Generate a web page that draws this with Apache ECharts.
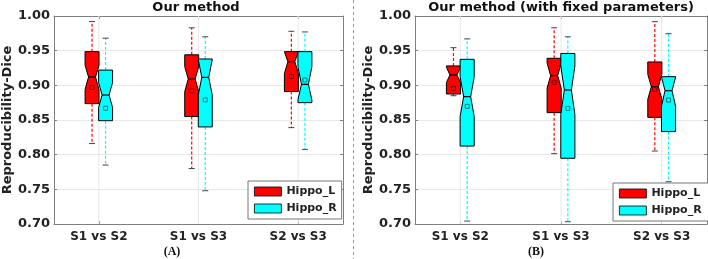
<!DOCTYPE html>
<html>
<head>
<meta charset="utf-8">
<script src="https://cdn.jsdelivr.net/npm/echarts@6/dist/echarts.min.js"></script>
<style>html,body{margin:0;padding:0;background:#fff;}#c{width:708px;height:259px;}</style>
</head>
<body>
<div id="c"></div>
<script>
// ---- data ----
const categories = ['S1 vs S2', 'S1 vs S3', 'S2 vs S3'];
const yTicks = [0.70, 0.75, 0.80, 0.85, 0.90, 0.95, 1.00];
const seriesNames = ['Hippo_L', 'Hippo_R'];
// each row: [whiskerLow, q1, notchLow, median, notchHigh, q3, whiskerHigh, mean]
const panelA_L = [
  [0.816, 0.8736, 0.894, 0.912, 0.929, 0.9486, 0.992, 0.897],
  [0.780, 0.855, 0.891, 0.909, 0.927, 0.944, 0.983, 0.892],
  [0.839, 0.891, 0.917, 0.934, 0.9486, 0.9486, 0.978, 0.913]
];
const panelA_R = [
  [0.785, 0.849, 0.868, 0.886, 0.904, 0.922, 0.968, 0.867],
  [0.748, 0.840, 0.886, 0.9115, 0.937, 0.938, 0.970, 0.879],
  [0.8076, 0.875, 0.879, 0.9014, 0.927, 0.9486, 0.977, 0.9077]
];
const panelB_L = [
  [0.885, 0.8875, 0.904, 0.915, 0.926, 0.928, 0.9543, 0.8957],
  [0.8014, 0.8606, 0.896, 0.914, 0.932, 0.939, 0.983, 0.9043],
  [0.8052, 0.8538, 0.880, 0.898, 0.916, 0.9337, 0.9918, 0.894]
];
const panelB_R = [
  [0.7043, 0.8124, 0.855, 0.8837, 0.9125, 0.9375, 0.967, 0.8697],
  [0.7033, 0.7948, 0.858, 0.8933, 0.928, 0.946, 0.970, 0.8668],
  [0.761, 0.8333, 0.870, 0.8923, 0.912, 0.9125, 0.9745, 0.8788]
];
const titles = ['Our method', 'Our method (with fixed parameters)'];
const panelLabels = ['(A)', '(B)'];

// ---- style ----
const colors = ['#ff0000', '#00ffff'];
const meanColors = ['#7a0000', '#007a7a'];
const offsets = [-0.068, 0.068];
const halfW = 0.07;
const FONT = 'DejaVu Sans';

const chart = echarts.init(document.getElementById('c'), null, {renderer: 'canvas'});

function boxRender(sIdx) {
  return function (params, api) {
    const x = api.value(0) + offsets[sIdx];
    const v = [1,2,3,4,5,6,7,8].map(i => api.value(i));
    const [wl, q1, nl, med, nh, q3, wh, mean] = v;
    const cx = api.coord([x, med])[0];
    const hw = api.size([halfW, 0])[0];
    const nw = hw / 2;
    const Y = val => api.coord([x, val])[1];
    const yq1 = Y(q1), yq3 = Y(q3), ynl = Y(nl), ynh = Y(nh), ym = Y(med);
    const ywl = Y(wl), ywh = Y(wh), ymean = Y(mean);
    const L = cx - hw, R = cx + hw;
    const children = [];
    children.push({type: 'line', shape: {x1: cx, y1: yq3, x2: cx, y2: ywh},
      style: {stroke: colors[sIdx], lineWidth: 1.2, lineDash: [3, 2]}});
    children.push({type: 'line', shape: {x1: cx, y1: yq1, x2: cx, y2: ywl},
      style: {stroke: colors[sIdx], lineWidth: 1.2, lineDash: [3, 2]}});
    children.push({type: 'line', shape: {x1: cx - 3, y1: ywh, x2: cx + 3, y2: ywh},
      style: {stroke: '#444', lineWidth: 1}});
    children.push({type: 'line', shape: {x1: cx - 3, y1: ywl, x2: cx + 3, y2: ywl},
      style: {stroke: '#444', lineWidth: 1}});
    children.push({type: 'polygon', shape: {points: [
      [L, yq3], [R, yq3], [R, ynh], [cx + nw, ym], [R, ynl], [R, yq1],
      [L, yq1], [L, ynl], [cx - nw, ym], [L, ynh]
    ]}, style: {fill: colors[sIdx], stroke: '#000', lineWidth: 1}});
    children.push({type: 'line', shape: {x1: cx - nw, y1: ym, x2: cx + nw, y2: ym},
      style: {stroke: '#000', lineWidth: 1.2}});
    children.push({type: 'rect', shape: {x: cx - 2, y: ymean - 2, width: 4, height: 4},
      style: {fill: 'none', stroke: meanColors[sIdx], lineWidth: 1}});
    return {type: 'group', children: children};
  };
}

function vgridRender(params, api) {
  const x = api.value(0);
  const p1 = api.coord([x, yTicks[0]]);
  const p2 = api.coord([x, yTicks[yTicks.length - 1]]);
  return {type: 'line', shape: {x1: p1[0], y1: p1[1], x2: p2[0], y2: p2[1]},
    style: {stroke: '#e8e8e8', lineWidth: 1}};
}

function mkData(rows) {
  return rows.map((r, i) => [i + 1].concat(r));
}

const grids = [
  {left: 50, top: 16, width: 293, height: 208},
  {left: 415, top: 16, width: 292, height: 208}
];

const catVals = categories.map((c, i) => i + 1);

function xAxisBottom(gi) {
  return {
    type: 'value', gridIndex: gi, min: 0.55, max: 3.45, position: 'bottom',
    axisLine: {show: true, lineStyle: {color: '#808080', width: 1}},
    axisTick: {show: true, inside: true, length: 3, customValues: catVals, lineStyle: {color: '#808080'}},
    axisLabel: {show: true, customValues: catVals, margin: 7,
      formatter: v => categories[Math.round(v) - 1] || '',
      fontFamily: FONT, fontWeight: 'bold', fontSize: 12, color: '#222'},
    splitLine: {show: false}
  };
}
function xAxisTop(gi) {
  return {
    type: 'value', gridIndex: gi, min: 0.55, max: 3.45, position: 'top',
    axisLine: {show: true, lineStyle: {color: '#808080', width: 1}},
    axisTick: {show: true, inside: true, length: 3, customValues: catVals, lineStyle: {color: '#808080'}},
    axisLabel: {show: false}, splitLine: {show: false}
  };
}
function yAxisLeft(gi) {
  return {
    type: 'value', gridIndex: gi, min: yTicks[0], max: yTicks[yTicks.length - 1], interval: 0.05,
    position: 'left',
    name: 'Reproducibility-Dice', nameLocation: 'middle', nameGap: 33, nameRotate: 90,
    nameTextStyle: {fontFamily: FONT, fontWeight: 'bold', fontSize: 13, color: '#222'},
    axisLine: {show: true, lineStyle: {color: '#808080', width: 1}},
    axisTick: {show: true, inside: true, length: 3, lineStyle: {color: '#808080'}},
    axisLabel: {margin: 4, formatter: v => v.toFixed(2),
      fontFamily: FONT, fontWeight: 'bold', fontSize: 13, color: '#222'},
    splitLine: {show: true, lineStyle: {color: '#e8e8e8', width: 1}}
  };
}
function yAxisRight(gi) {
  return {
    type: 'value', gridIndex: gi, min: yTicks[0], max: yTicks[yTicks.length - 1], interval: 0.05,
    position: 'right',
    axisLine: {show: true, lineStyle: {color: '#808080', width: 1}},
    axisTick: {show: true, inside: true, length: 3, lineStyle: {color: '#808080'}},
    axisLabel: {show: false}, splitLine: {show: false}
  };
}

const panels = [[panelA_L, panelA_R], [panelB_L, panelB_R]];
const series = [];
[0, 1].forEach(gi => {
  series.push({type: 'custom', name: 'vgrid' + gi, xAxisIndex: gi, yAxisIndex: gi,
    renderItem: vgridRender, data: catVals.map(v => [v]), z: 1, silent: true});
  [0, 1].forEach(si => {
    series.push({
      type: 'custom', name: seriesNames[si], xAxisIndex: gi, yAxisIndex: gi,
      itemStyle: {color: colors[si]},
      renderItem: boxRender(si), data: mkData(panels[gi][si]), z: 3,
      encode: {x: 0, y: [1, 2, 3, 4, 5, 6, 7, 8]}
    });
  });
});

function legend(opts) {
  return Object.assign({
    data: seriesNames.map(n => ({name: n, icon: 'rect'})),
    orient: 'vertical', itemWidth: 27, itemHeight: 9, itemGap: 6,
    backgroundColor: '#fff', borderColor: '#777', borderWidth: 1, borderRadius: 0,
    itemStyle: {borderColor: '#000', borderWidth: 0.8},
    textStyle: {fontFamily: FONT, fontWeight: 'bold', fontSize: 11, color: '#222', lineHeight: 10},
    selectedMode: false
  }, opts);
}

const option = {
  animation: false,
  backgroundColor: '#fff',
  grid: grids,
  xAxis: [xAxisBottom(0), xAxisBottom(1), xAxisTop(0), xAxisTop(1)],
  yAxis: [yAxisLeft(0), yAxisLeft(1), yAxisRight(0), yAxisRight(1)],
  legend: [
    legend({left: 248, top: 181, padding: [5, 5, 5, 6]}),
    legend({left: 613, top: 183, padding: [5, 10, 5, 6]})
  ],
  graphic: [
    {type: 'text', x: 196, y: 8, style: {text: titles[0], font: 'bold 13px "DejaVu Sans"', fill: '#111', textAlign: 'center', textVerticalAlign: 'middle'}},
    {type: 'text', x: 561, y: 8, style: {text: titles[1], font: 'bold 13px "DejaVu Sans"', fill: '#111', textAlign: 'center', textVerticalAlign: 'middle'}},
    {type: 'text', x: 172, y: 252, style: {text: panelLabels[0], font: 'bold 12px "Liberation Serif"', fill: '#111', textAlign: 'center', textVerticalAlign: 'middle'}},
    {type: 'text', x: 536, y: 252, style: {text: panelLabels[1], font: 'bold 12px "Liberation Serif"', fill: '#111', textAlign: 'center', textVerticalAlign: 'middle'}},
    {type: 'line', shape: {x1: 353.5, y1: 0, x2: 353.5, y2: 259}, style: {stroke: '#999', lineWidth: 1, lineDash: [3, 3]}}
  ],
  series: series
};
chart.setOption(option);
</script>
</body>
</html>
